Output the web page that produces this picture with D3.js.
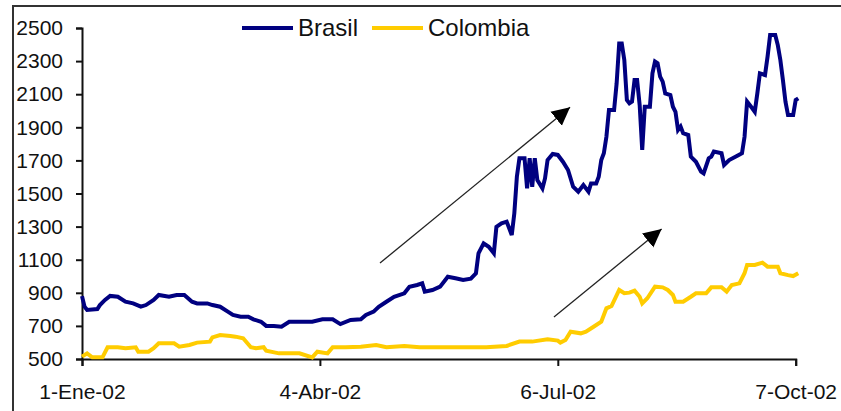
<!DOCTYPE html>
<html>
<head>
<meta charset="utf-8">
<script src="https://cdn.jsdelivr.net/npm/d3@7"></script>
<style>
  html, body { margin: 0; padding: 0; background: #fff; }
  svg { display: block; }
  text { font-family: "Liberation Sans", Arial, sans-serif; fill: #111; }
</style>
</head>
<body>
<svg id="chart" width="841" height="411"></svg>
<script>
// Spreads (puntos básicos), 2002
const brasilDates = [
  "2002-01-01","2002-01-02","2002-01-03","2002-01-07","2002-01-08","2002-01-10","2002-01-12","2002-01-15",
  "2002-01-18","2002-01-21","2002-01-24","2002-01-26","2002-01-29","2002-01-31","2002-02-04","2002-02-07",
  "2002-02-10","2002-02-13","2002-02-15","2002-02-19","2002-02-21","2002-02-24","2002-02-27","2002-03-01",
  "2002-03-04","2002-03-07","2002-03-09","2002-03-12","2002-03-14","2002-03-17","2002-03-20","2002-03-23",
  "2002-03-27","2002-04-01","2002-04-05","2002-04-09","2002-04-12","2002-04-16","2002-04-20","2002-04-22",
  "2002-04-25","2002-04-27","2002-04-30","2002-05-03","2002-05-07","2002-05-09","2002-05-12","2002-05-14",
  "2002-05-15","2002-05-18","2002-05-21","2002-05-24","2002-05-27","2002-05-30","2002-06-02","2002-06-04",
  "2002-06-05","2002-06-07","2002-06-09","2002-06-11","2002-06-12","2002-06-14","2002-06-16","2002-06-18",
  "2002-06-19","2002-06-20","2002-06-21","2002-06-23","2002-06-24","2002-06-25","2002-06-26","2002-06-27",
  "2002-06-28","2002-06-30","2002-07-01","2002-07-02","2002-07-04","2002-07-06","2002-07-08","2002-07-10",
  "2002-07-12","2002-07-14","2002-07-16","2002-07-18","2002-07-19","2002-07-21","2002-07-22","2002-07-23",
  "2002-07-24","2002-07-25","2002-07-26","2002-07-28","2002-07-29","2002-07-30","2002-07-31","2002-08-01",
  "2002-08-02","2002-08-03","2002-08-04","2002-08-05","2002-08-06","2002-08-07","2002-08-08","2002-08-09",
  "2002-08-11","2002-08-12","2002-08-13","2002-08-14","2002-08-15","2002-08-16","2002-08-17","2002-08-19",
  "2002-08-20","2002-08-21","2002-08-22","2002-08-23","2002-08-24","2002-08-26","2002-08-27","2002-08-29",
  "2002-08-31","2002-09-01","2002-09-03","2002-09-04","2002-09-05","2002-09-08","2002-09-09","2002-09-11",
  "2002-09-14","2002-09-16","2002-09-17","2002-09-18","2002-09-20","2002-09-21","2002-09-22","2002-09-23",
  "2002-09-25","2002-09-26","2002-09-27","2002-09-29","2002-09-30","2002-10-01","2002-10-02","2002-10-03",
  "2002-10-04","2002-10-06","2002-10-07","2002-10-08"
];
const brasilValues = [
  880, 816, 796, 802, 826, 857, 881, 876,
  846, 836, 816, 826, 857, 887, 876, 887,
  887, 846, 836, 836, 826, 816, 786, 766,
  756, 756, 740, 725, 700, 700, 695, 725,
  725, 725, 740, 740, 711, 736, 740, 766,
  786, 816, 846, 876, 897, 937, 947, 957,
  907, 917, 937, 997, 988, 977, 985, 1018,
  1139, 1199, 1178, 1139, 1299, 1320, 1330, 1249,
  1380, 1601, 1713, 1713, 1531, 1713, 1541, 1713,
  1581, 1531, 1591, 1702, 1739, 1733, 1692, 1642,
  1541, 1511, 1551, 1511, 1561, 1561, 1601, 1702,
  1743, 1843, 2004, 2004, 2166, 2407, 2407, 2307,
  2065, 2045, 2055, 2186, 2186, 2035, 1763, 2024,
  2024, 2226, 2297, 2287, 2206, 2176, 2105, 2095,
  2024, 1994, 1884, 1904, 1864, 1853, 1723, 1692,
  1632, 1622, 1713, 1723, 1753, 1743, 1672, 1702,
  1727, 1743, 1843, 2055, 2015, 1994, 2105, 2226,
  2216, 2327, 2458, 2458, 2397, 2307, 2186, 2055,
  1974, 1974, 2065, 2075
];

const colombiaDates = [
  "2002-01-01","2002-01-03","2002-01-05","2002-01-09","2002-01-11","2002-01-15","2002-01-18","2002-01-22",
  "2002-01-23","2002-01-27","2002-01-29","2002-01-31","2002-02-06","2002-02-08","2002-02-12","2002-02-15",
  "2002-02-20","2002-02-21","2002-02-24","2002-02-28","2002-03-02","2002-03-05","2002-03-08","2002-03-10",
  "2002-03-13","2002-03-14","2002-03-19","2002-03-23","2002-03-27","2002-04-01","2002-04-03","2002-04-07",
  "2002-04-09","2002-04-14","2002-04-20","2002-04-26","2002-04-30","2002-05-07","2002-05-13","2002-05-24",
  "2002-05-31","2002-06-08","2002-06-16","2002-06-21","2002-06-26","2002-07-02","2002-07-06","2002-07-07",
  "2002-07-09","2002-07-11","2002-07-15","2002-07-17","2002-07-20","2002-07-23","2002-07-25","2002-07-27",
  "2002-07-30","2002-08-01","2002-08-03","2002-08-05","2002-08-07","2002-08-08","2002-08-10","2002-08-13",
  "2002-08-16","2002-08-18","2002-08-20","2002-08-21","2002-08-24","2002-08-27","2002-08-29","2002-09-02",
  "2002-09-04","2002-09-08","2002-09-10","2002-09-12","2002-09-15","2002-09-17","2002-09-18","2002-09-21",
  "2002-09-24","2002-09-26","2002-09-30","2002-10-01","2002-10-04","2002-10-06","2002-10-08"
];
const colombiaValues = [
  514, 534, 510, 510, 571, 571, 565, 571,
  544, 544, 565, 595, 595, 574, 585, 599,
  605, 631, 645, 639, 635, 625, 571, 565,
  571, 550, 534, 534, 534, 510, 544, 534,
  571, 571, 574, 585, 571, 579, 571, 571,
  571, 571, 579, 605, 605, 619, 611, 599,
  615, 665, 655, 665, 695, 725, 806, 820,
  917, 897, 901, 913, 876, 836, 867, 937,
  933, 917, 887, 846, 846, 876, 897, 897,
  933, 933, 907, 947, 957, 1018, 1068, 1068,
  1082, 1058, 1058, 1018, 1007, 1001, 1018
];

const seriesNames = ["Brasil", "Colombia"];
const seriesColors = ["#000080", "#FFCC00"];

const yTicks = [500, 700, 900, 1100, 1300, 1500, 1700, 1900, 2100, 2300, 2500];
const xTickDates = ["2002-01-01", "2002-04-04", "2002-07-06", "2002-10-07"];
const xTickLabels = ["1-Ene-02", "4-Abr-02", "6-Jul-02", "7-Oct-02"];

// Trend arrows: [start date, start value, end date, end value]
const arrowStarts = [["2002-04-27T12:00", 1080], ["2002-07-04T12:00", 754]];
const arrowEnds   = [["2002-07-10T19:00", 2021], ["2002-08-15T14:00", 1285]];

const parseDay = d3.timeParse("%Y-%m-%d");
const parseStamp = d3.timeParse("%Y-%m-%dT%H:%M");

const svg = d3.select("#chart");

// Outer chart frame
svg.append("rect")
  .attr("x", 13).attr("y", 6)
  .attr("width", 900).attr("height", 500)
  .attr("fill", "#fff")
  .attr("stroke", "#333")
  .attr("stroke-width", 2);

const plot = { left: 82, right: 795.7, top: 28, bottom: 359 };

const x = d3.scaleTime()
  .domain([parseDay(xTickDates[0]), parseDay(xTickDates[xTickDates.length - 1])])
  .range([plot.left, plot.right]);

const y = d3.scaleLinear()
  .domain([500, 2500])
  .range([plot.bottom, plot.top]);

// Axes
const yAxis = d3.axisLeft(y)
  .tickValues(yTicks)
  .tickFormat(d3.format("d"))
  .tickSize(6)
  .tickPadding(13);

const xAxis = d3.axisBottom(x)
  .tickValues(xTickDates.map(parseDay))
  .tickFormat((d, i) => xTickLabels[i])
  .tickSize(7)
  .tickPadding(18);

const gy = svg.append("g")
  .attr("transform", `translate(${plot.left},0)`)
  .call(yAxis);

const gx = svg.append("g")
  .attr("transform", `translate(0,${plot.bottom})`)
  .call(xAxis);

[gx, gy].forEach(g => {
  g.selectAll("path, line").attr("stroke", "#111").attr("stroke-width", 2);
  g.selectAll("text")
    .attr("fill", "#111")
    .style("font-family", '"Liberation Sans", Arial, sans-serif')
    .style("font-size", "21px");
});

// Series lines
const line = d3.line()
  .x(d => x(d[0]))
  .y(d => y(d[1]));

const series = [
  d3.zip(brasilDates.map(parseDay), brasilValues),
  d3.zip(colombiaDates.map(parseDay), colombiaValues)
];

svg.append("g")
  .selectAll("path")
  .data(series)
  .join("path")
  .attr("d", line)
  .attr("fill", "none")
  .attr("stroke", (d, i) => seriesColors[i])
  .attr("stroke-width", 4)
  .attr("stroke-linejoin", "miter")
  .attr("stroke-linecap", "butt");

// Arrowhead marker
svg.append("defs").append("marker")
  .attr("id", "head")
  .attr("viewBox", "0 -10 20 20")
  .attr("refX", 18)
  .attr("refY", 0)
  .attr("markerWidth", 20)
  .attr("markerHeight", 20)
  .attr("markerUnits", "userSpaceOnUse")
  .attr("orient", "auto")
  .append("path")
  .attr("d", "M0,-9L18,0L0,9Z")
  .attr("fill", "#000");

svg.append("g")
  .selectAll("line")
  .data(d3.zip(arrowStarts, arrowEnds))
  .join("line")
  .attr("x1", d => x(parseStamp(d[0][0])))
  .attr("y1", d => y(d[0][1]))
  .attr("x2", d => x(parseStamp(d[1][0])))
  .attr("y2", d => y(d[1][1]))
  .attr("stroke", "#222")
  .attr("stroke-width", 1.3)
  .attr("marker-end", "url(#head)");

// Legend
const legend = svg.append("g").attr("transform", "translate(242,28)");
const legendOffsets = [0, 130];
seriesNames.forEach((name, i) => {
  const g = legend.append("g").attr("transform", `translate(${legendOffsets[i]},0)`);
  g.append("line")
    .attr("x1", 0).attr("x2", 51)
    .attr("y1", 0).attr("y2", 0)
    .attr("stroke", seriesColors[i])
    .attr("stroke-width", 4);
  g.append("text")
    .attr("x", 56)
    .attr("y", 0)
    .attr("dy", "0.35em")
    .style("font-size", "24px")
    .text(name);
});
</script>
</body>
</html>
